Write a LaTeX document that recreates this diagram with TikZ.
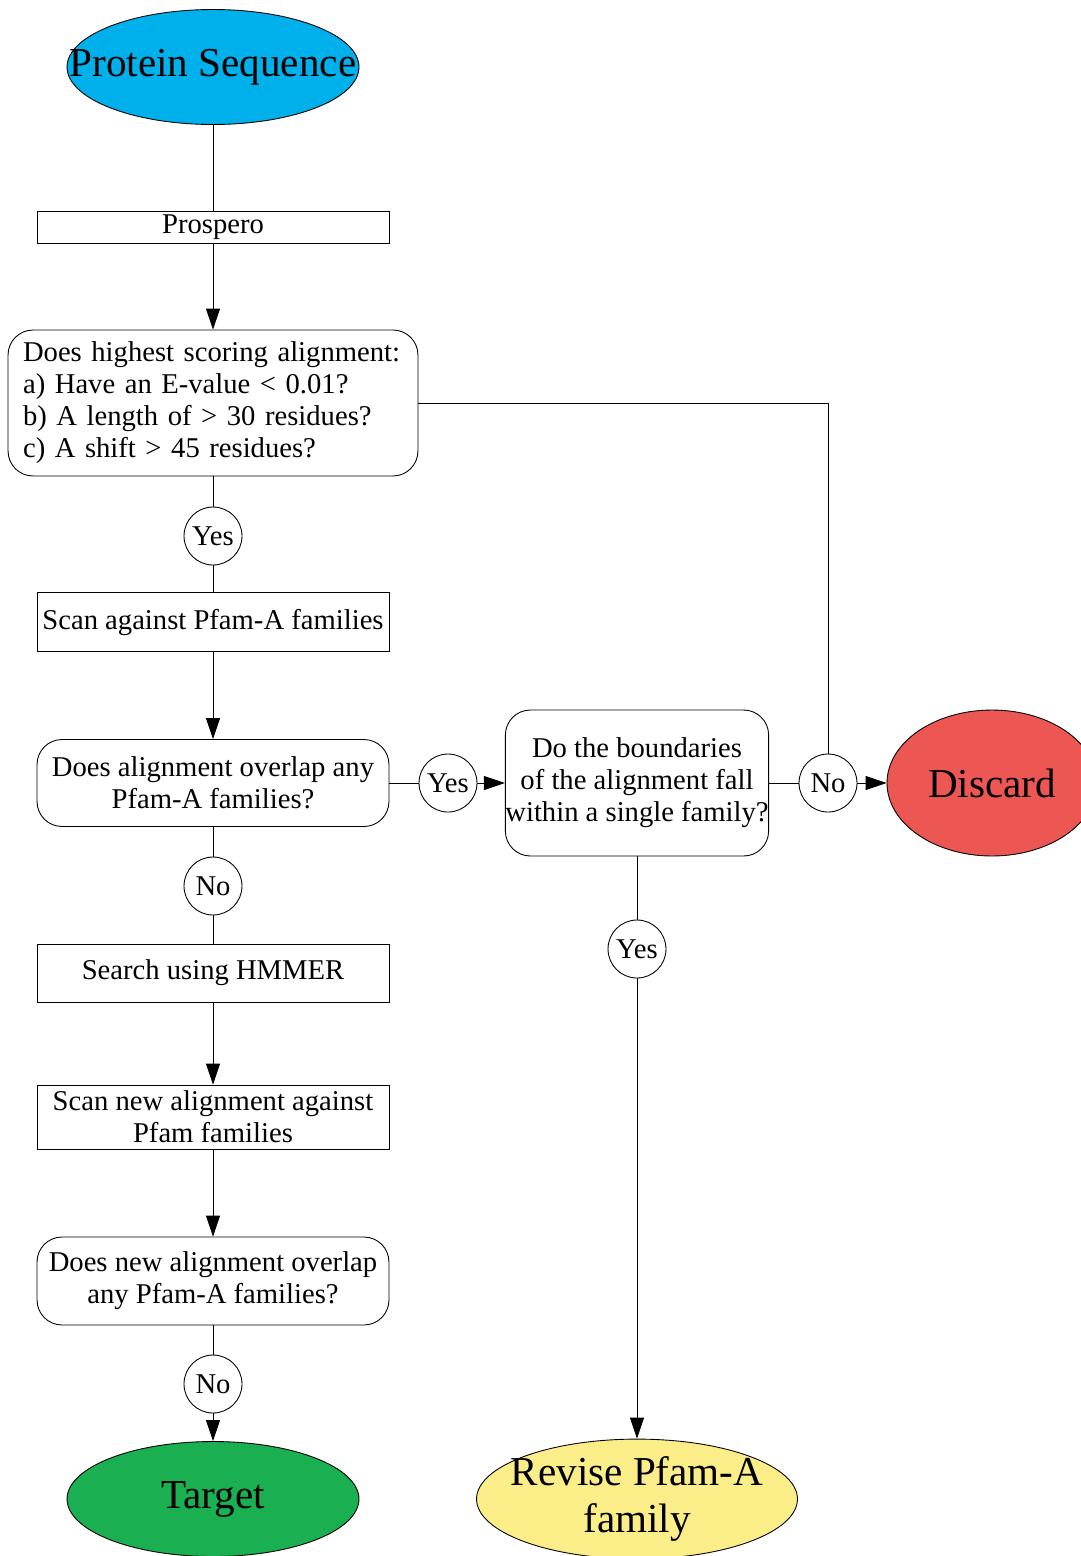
\documentclass[tikz,border=0pt]{standalone}
\usepackage{fontspec}
\setmainfont{Liberation Serif}
\usetikzlibrary{shapes.geometric,arrows.meta}

\definecolor{seqblue}{RGB}{0,176,235}
\definecolor{discardred}{RGB}{236,87,83}
\definecolor{targetgreen}{RGB}{26,175,80}
\definecolor{reviseyellow}{RGB}{251,238,136}

\begin{document}
\begin{tikzpicture}[x=0.02cm, y=-0.02cm, line width=0.5pt,
    >={Triangle[length=0.42cm, width=0.28cm]},
    every node/.style={font=\fontsize{16.3}{18.2}\selectfont},
    endpoint/.style={ellipse, draw, minimum width=5.84cm, minimum height=2.3cm, inner sep=0pt, align=center, font=\fontsize{23.4}{26.7}\selectfont},
    stepbox/.style={rectangle, draw, minimum width=7.04cm, inner sep=0pt, align=center},
    question/.style={rectangle, rounded corners=0.5cm, draw, inner sep=0pt, align=center},
    answer/.style={circle, draw, minimum size=1.16cm, inner sep=0pt}]

        \useasboundingbox (0,0) rectangle (1081,1556);

        \node[endpoint, fill=seqblue] (seq) at (213,67) {\makebox[0pt]{Protein Sequence}};
        \node[stepbox, minimum height=0.64cm] (prospero) at (213,227) {Prospero};
        \node[question, minimum width=8.2cm, minimum height=2.92cm, align=left, text width=7.6cm] (q1) at (213,403)
            {Does highest scoring alignment:\\a) Have an E-value < 0.01?\\b) A length of > 30 residues?\\c) A shift > 45 residues?};

        \node[answer] (yes1) at (213,536) {Yes};
        \node[stepbox, minimum height=1.18cm] (scan) at (213,622) {Scan against Pfam-A families};
        \node[question, minimum width=7.04cm, minimum height=1.74cm] (q2) at (213,783) {Does alignment overlap any\\Pfam-A families?};

        \node[answer] (yes2) at (448,783) {Yes};
        \node[question, minimum width=5.26cm, minimum height=2.92cm] (q3) at (637,783) {Do the boundaries\\of the alignment fall\\within a single family?};
        \node[answer] (no1) at (828,783) {No};
        \node[endpoint, fill=discardred, minimum width=4.2cm, minimum height=2.92cm] (discard) at (992,783) {Discard};

        \node[answer] (no2) at (213,886) {No};
        \node[stepbox, minimum height=1.16cm] (hmmer) at (213,973) {Search using HMMER};
        \node[stepbox, minimum height=1.28cm] (rescan) at (213,1117) {Scan new alignment against\\Pfam families};
        \node[question, minimum width=7.04cm, minimum height=1.76cm] (q4) at (213,1281) {Does new alignment overlap\\any Pfam-A families?};
        \node[answer] (no3) at (213,1384) {No};
        \node[endpoint, fill=targetgreen] (target) at (213,1499) {Target};

        \node[answer] (yes3) at (637,949) {Yes};
        \node[endpoint, fill=reviseyellow, minimum width=6.42cm] (revise) at (637,1499)
            {\makebox[0pt]{Revise Pfam-A}\\\makebox[0pt]{family}};

        \draw (seq) -- (prospero);
        \draw[->] (prospero) -- (q1);

        \draw (q1) -- (yes1);
        \draw (yes1) -- (scan);
        \draw[->] (scan) -- (q2);

        \draw (q2) -- (yes2);
        \draw[->] (yes2) -- (q3);
        \draw (q3) -- (no1);
        \draw[->] (no1) -- (discard);
        \draw (q1.east) -| (no1.north);

        \draw (q2) -- (no2);
        \draw (no2) -- (hmmer);
        \draw[->] (hmmer) -- (rescan);
        \draw[->] (rescan) -- (q4);
        \draw (q4) -- (no3);
        \draw[->] (no3) -- (target);

        \draw (q3) -- (yes3);
        \draw[->] (yes3) -- (revise);

    \end{tikzpicture}
\end{document}
